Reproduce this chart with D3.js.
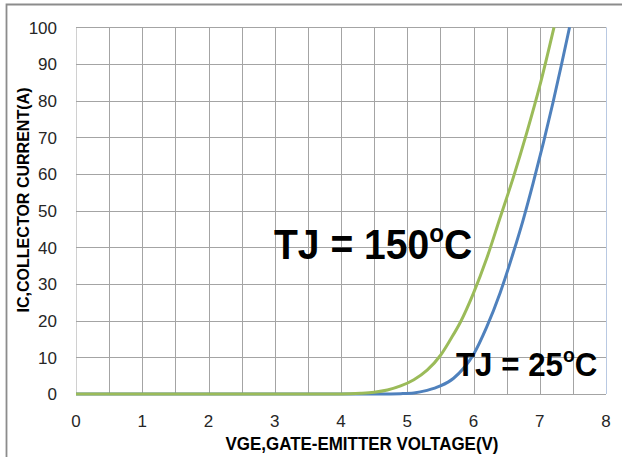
<!DOCTYPE html>
<html><head><meta charset="utf-8">
<script src="https://cdn.jsdelivr.net/npm/d3@7"></script>
<style>html,body{margin:0;padding:0;background:#fff;}svg{display:block;}</style>
</head><body>
<script>
// ---- data ----
const xTicks = [0,1,2,3,4,5,6,7,8];
const yTicks = [0,10,20,30,40,50,60,70,80,90,100];
const vge150 = [0,1,2,3,4,4.3,4.5,4.7,4.9,5.1,5.3,5.5,5.65,5.8,6.0,6.2,6.4,6.6,6.8,7.0,7.215];
const ic150  = [0,0,0,0,0,0.2,0.5,1.1,2.2,3.9,6.5,10.5,14.8,19.5,27.5,37,48,59,71,84,100];
const vge25  = [0,1,2,3,4,4.6,4.9,5.1,5.3,5.5,5.7,5.85,6.0,6.2,6.4,6.6,6.75,6.9,7.2,7.33,7.45];
const ic25   = [0,0,0,0,0,0,0.1,0.3,1.0,2.2,4.3,7.0,10.8,18.3,27.5,38.5,47.5,57.5,79.5,90,100];
const xTitle = "VGE,GATE-EMITTER VOLTAGE(V)";
const yTitle = "IC,COLLECTOR CURRENT(A)";

const W = 622, H = 457;
const svg = d3.select("body").append("svg").attr("width", W).attr("height", H);
const x = d3.scaleLinear().domain([0, 8]).range([76, 606]);
const y = d3.scaleLinear().domain([0, 100]).range([394, 27.3]);
const font = "'Liberation Sans', Arial, sans-serif";

// outer frame (left + top only)
svg.append("path").attr("d", `M6.5,${H} V4.5 H${W}`).attr("fill","none")
  .attr("stroke","#8c8c8c").attr("stroke-width",1.8);

// grid
const g = svg.append("g");
g.selectAll(".vg").data(d3.range(0, 8.001, 0.5)).join("line")
  .attr("x1", d => Math.round(x(d)) + 0.5).attr("x2", d => Math.round(x(d)) + 0.5)
  .attr("y1", y(0)).attr("y2", y(100))
  .attr("stroke", d => d === 8 ? "#b9c9e2" : (d === 0 ? "#d0d0d0" : "#a4a4a4")).attr("stroke-width", 1);
g.selectAll(".hg").data(yTicks).join("line")
  .attr("x1", x(0)).attr("x2", x(8))
  .attr("y1", d => Math.round(y(d)) + 0.5).attr("y2", d => Math.round(y(d)) + 0.5)
  .attr("stroke", "#a4a4a4").attr("stroke-width", 1);

// tick labels
svg.selectAll(".xt").data(xTicks).join("text")
  .attr("x", d => x(d)).attr("y", 427).attr("text-anchor","middle")
  .attr("font-family", font).attr("font-size", 17).attr("fill","#262626").text(d => d);
svg.selectAll(".yt").data(yTicks).join("text")
  .attr("x", 57).attr("y", d => y(d) + 6.2).attr("text-anchor","end")
  .attr("font-family", font).attr("font-size", 17).attr("fill","#262626").text(d => d);

// axis titles
svg.append("text").attr("x", 362).attr("y", 450).attr("text-anchor","middle")
  .attr("font-family", font).attr("font-size", 18).attr("font-weight","bold")
  .attr("textLength", 273).attr("lengthAdjust","spacingAndGlyphs")
  .attr("fill","#000").text(xTitle);
svg.append("text").attr("transform","translate(28.5,200) rotate(-90)").attr("text-anchor","middle")
  .attr("font-family", font).attr("font-size", 17).attr("font-weight","bold")
  .attr("textLength", 225).attr("lengthAdjust","spacingAndGlyphs")
  .attr("fill","#000").text(yTitle);

// curves
const line = d3.line().x(d => x(d[0])).y(d => y(d[1])).curve(d3.curveMonotoneX);
svg.append("path").datum(d3.zip(vge25, ic25)).attr("d", line)
  .attr("fill","none").attr("stroke","#4f81bd").attr("stroke-width",3);
svg.append("path").datum(d3.zip(vge150, ic150)).attr("d", line)
  .attr("fill","none").attr("stroke","#9bbb59").attr("stroke-width",3);

// annotations
function label(tx, ty, sx, size, num) {
  const t = svg.append("text").attr("transform", `translate(${tx},${ty}) scale(${sx},1)`)
    .attr("font-family", font).attr("font-weight","bold").attr("fill","#000")
    .attr("font-size", size);
  t.append("tspan").text("TJ = " + num);
  t.append("tspan").attr("font-size", size * 0.62).attr("dy", -size * 0.4).text("o");
  t.append("tspan").attr("dy", size * 0.4).text("C");
}
label(274, 259, 0.93, 42, "150");
label(456, 376, 0.92, 34, "25");
</script>
</body></html>
